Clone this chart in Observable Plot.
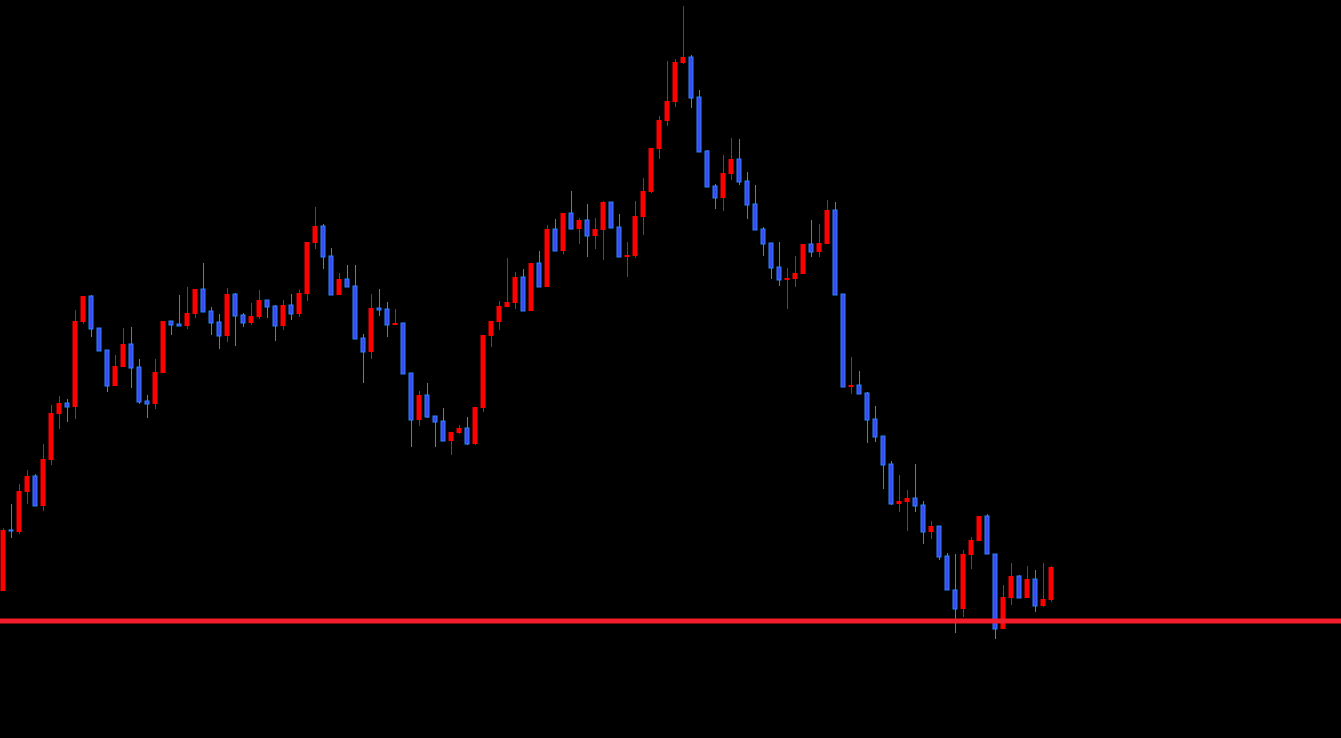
<!DOCTYPE html>
<html>
<head>
<meta charset="utf-8">
<script src="https://cdn.jsdelivr.net/npm/d3@7"></script>
<script src="https://cdn.jsdelivr.net/npm/@observablehq/plot@0.6"></script>
<style>
  html, body { margin: 0; padding: 0; background: #000; overflow: hidden; }
  #chart svg { display: block; }
</style>
</head>
<body>
<div id="chart"></div>
<script>
const open = [409,470,468,508,524,494,540,586,597,593,678,704,672,650,614,633,656,633,599,596,
  627,679,676,674,686,711,689,678,664,706,685,677,683,700,694,674,695,686,706,757,
  774,744,705,721,714,662,648,692,691,675,677,627,580,605,584,579,559,567,572,556,
  592,664,678,693,697,723,689,737,713,771,749,787,771,780,764,770,798,773,743,744,
  783,808,851,879,898,937,943,903,849,814,802,826,841,819,796,771,757,733,720,721,
  726,756,748,756,790,706,613,615,607,581,564,536,496,498,502,495,468,474,444,410,
  391,445,459,484,446,371,402,424,402,421,394,400];
const high = [472,496,516,530,526,556,595,604,601,690,704,705,672,650,645,672,673,641,605,641,
  679,679,705,713,711,737,693,686,712,707,687,697,710,700,695,700,706,710,758,793,
  776,752,727,735,735,666,706,711,698,691,677,627,609,617,584,592,568,575,583,593,
  665,679,699,742,728,731,737,749,775,781,787,809,782,796,782,799,798,786,758,799,
  822,852,884,939,941,994,945,910,850,816,845,862,861,828,815,773,757,758,732,744,
  756,780,776,800,798,706,643,629,608,594,564,539,525,510,536,499,479,474,447,446,
  450,463,484,486,446,415,437,425,434,430,437,434];
const low = [409,462,466,496,494,489,535,571,578,581,676,663,649,608,614,633,612,596,582,591,
  627,665,674,671,682,688,665,651,658,654,673,675,681,682,659,670,680,683,699,751,
  731,705,705,713,661,617,641,684,663,675,626,553,574,582,553,559,545,566,555,555,
  588,653,670,693,691,689,689,713,713,749,746,771,756,743,751,740,772,743,723,742,
  765,807,841,874,893,936,892,848,813,791,789,820,815,781,770,744,721,714,691,713,
  726,743,743,756,705,613,606,606,557,558,511,495,488,469,488,456,461,440,410,367,
  383,431,459,446,361,371,395,402,402,388,393,398];
const close = [470,469,509,524,494,541,587,597,593,679,704,671,649,614,634,656,632,598,596,628,
  679,675,674,687,711,688,677,664,706,684,677,684,700,693,674,695,686,707,758,774,
  743,705,721,713,661,648,692,690,675,677,626,580,605,583,578,559,568,572,556,593,
  665,679,694,698,723,689,737,713,771,749,787,771,780,764,771,798,772,743,745,784,
  809,852,880,899,938,943,902,848,813,802,827,841,818,795,770,756,732,720,722,727,
  756,748,757,790,705,613,615,606,580,563,535,496,499,502,494,468,474,443,410,391,
  446,460,484,446,371,403,424,402,421,394,401,433];
const supportLevel = [379.5];

const UP = "#ff0000";
const DOWN_FILL = "#4047f2";
const DOWN_EDGE = "#2a86ff";

const candles = open.map((o, i) => ({
  i, open: o, high: high[i], low: low[i], close: close[i], up: close[i] >= o
}));

const chart = Plot.plot({
  width: 1341,
  height: 738,
  marginTop: 0, marginRight: 0, marginBottom: 0, marginLeft: 0,
  style: { background: "#000" },
  x: { domain: [-0.375, 167.25], axis: null },
  y: { domain: [262, 1000], axis: null },
  marks: [
    Plot.ruleX(candles, {
      x: "i", y1: "low", y2: "high",
      stroke: d => d.up ? UP : DOWN_EDGE, strokeWidth: 1
    }),
    Plot.rect(candles.filter(d => d.up), {
      x1: d => d.i - 0.3125, x2: d => d.i + 0.3125,
      y1: "open", y2: "close", fill: UP
    }),
    Plot.rect(candles.filter(d => !d.up), {
      x1: d => d.i - 0.25, x2: d => d.i + 0.25,
      y1: "open", y2: "close", fill: DOWN_FILL, stroke: DOWN_EDGE, strokeWidth: 1
    }),
    Plot.ruleY(supportLevel, { stroke: "#f21c2a", strokeWidth: 5 })
  ]
});
document.getElementById("chart").appendChild(chart);
</script>
</body>
</html>
